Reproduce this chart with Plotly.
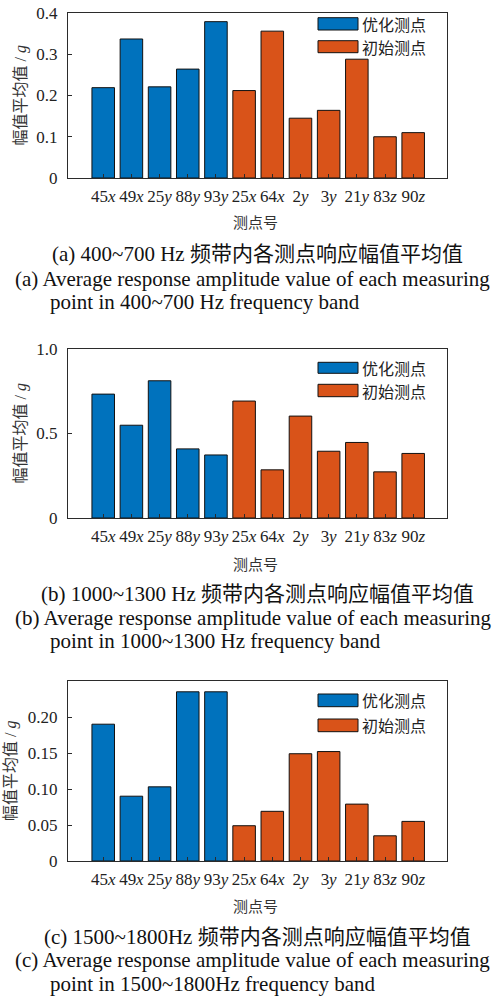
import re
import plotly.graph_objects as go

# ---------------- data ----------------
points = ["45x", "49x", "25y", "88y", "93y", "25x", "64x", "2y", "3y", "21y", "83z", "90z"]
n_optimized = 5
series_names = ["优化测点", "初始测点"]

vals_a = [0.219, 0.337, 0.221, 0.264, 0.379, 0.212, 0.356, 0.145, 0.164, 0.288, 0.100, 0.110]
vals_b = [0.733, 0.549, 0.812, 0.409, 0.373, 0.692, 0.285, 0.603, 0.395, 0.447, 0.273, 0.382]
vals_c = [0.190, 0.090, 0.103, 0.235, 0.235, 0.049, 0.069, 0.149, 0.152, 0.079, 0.035, 0.055]

yticks_a = [0, 0.1, 0.2, 0.3, 0.4]
ylabels_a = ["0", "0.1", "0.2", "0.3", "0.4"]
yticks_b = [0, 0.5, 1.0]
ylabels_b = ["0", "0.5", "1.0"]
yticks_c = [0, 0.05, 0.10, 0.15, 0.20]
ylabels_c = ["0", "0.05", "0.10", "0.15", "0.20"]

ytitle = "幅值平均值 / <i>g</i>"
xtitle = "测点号"
captions = [
    ["(a) 400~700 Hz 频带内各测点响应幅值平均值",
     "(a) Average response amplitude value of each measuring",
     "point in 400~700 Hz frequency band"],
    ["(b) 1000~1300 Hz 频带内各测点响应幅值平均值",
     "(b) Average response amplitude value of each measuring",
     "point in 1000~1300 Hz frequency band"],
    ["(c) 1500~1800Hz 频带内各测点响应幅值平均值",
     "(c) Average response amplitude value of each measuring",
     "point in 1500~1800Hz frequency band"],
]

# ---------------- styling ----------------
W, H = 500, 998
colors = ["#0072BD", "#D95319"]
FONT = "Liberation Serif, 'Noto Sans CJK SC', serif"
CJK = "'Noto Sans CJK SC', sans-serif"
AXC = "#2b2b2b"

def px(x):
    return x / W

def py(y):
    return 1 - y / H

ticktext = [re.sub(r"([a-z])$", r"<i>\1</i>", p) for p in points]

panels = [
    dict(vals=vals_a, yt=yticks_a, yl=ylabels_a, yr=[0, 0.4], top=13, bot=178,
         xt=221, ytc=21, cap=[254, 279, 302], leg=[(17.7, 30), (40.7, 52.7)]),
    dict(vals=vals_b, yt=yticks_b, yl=ylabels_b, yr=[0, 1.0], top=349, bot=518,
         xt=563, ytc=21, cap=[594, 618, 641], leg=[(362.3, 373.3), (384.3, 396.7)]),
    dict(vals=vals_c, yt=yticks_c, yl=ylabels_c, yr=[0, 0.25], top=681, bot=861,
         xt=905, ytc=11, cap=[937, 960, 984], leg=[(694, 706.7), (719, 731.7)]),
]
X0, X1 = 68, 447

fig = go.Figure()
layout = dict(
    template="none",
    width=W, height=H, margin=dict(l=0, r=0, t=0, b=0, pad=0, autoexpand=False),
    paper_bgcolor="white", plot_bgcolor="white",
    font=dict(family=FONT, size=15, color="#222"),
    showlegend=False, barmode="overlay",
)
annotations = []
shapes = []

for i, p in enumerate(panels):
    sfx = "" if i == 0 else str(i + 1)
    xa = "x" + sfx
    ya = "y" + sfx
    groups = [(points[:n_optimized], p["vals"][:n_optimized]),
              (points[n_optimized:], p["vals"][n_optimized:])]
    for k, (cats, v) in enumerate(groups):
        fig.add_trace(go.Bar(
            x=cats, y=v, name=series_names[k], xaxis=xa, yaxis=ya,
            width=0.8, marker=dict(color=colors[k], line=dict(color="#111", width=1)),
        ))
    layout["xaxis" + sfx] = dict(
        domain=[px(X0), px(X1)], anchor=ya, type="category", automargin=False,
        categoryorder="array", categoryarray=points,
        range=[-1.25, 12.2], tickvals=points, ticktext=ticktext,
        ticks="inside", ticklen=4, tickcolor=AXC, showline=True, linecolor=AXC,
        linewidth=1.2, mirror=True, showgrid=False, zeroline=False, ticklabelstandoff=2,
        tickfont=dict(family=FONT, size=17, color="#222"),
    )
    layout["yaxis" + sfx] = dict(
        domain=[py(p["bot"]), py(p["top"])], anchor=xa, range=p["yr"], automargin=False,
        tickvals=p["yt"], ticktext=p["yl"], ticks="inside", ticklen=4,
        tickcolor=AXC, showline=True, linecolor=AXC, linewidth=1.2, mirror=True,
        showgrid=False, zeroline=False, ticklabelstandoff=6,
        tickfont=dict(family=FONT, size=17, color="#222"),
    )
    # axis titles
    annotations.append(dict(text=xtitle, x=px(255), y=py(p["xt"]), xref="paper", yref="paper",
                            showarrow=False, xanchor="center", yanchor="middle",
                            font=dict(family=CJK, size=15, color="#333")))
    annotations.append(dict(text=ytitle, x=px(p["ytc"]), y=py((p["top"] + p["bot"]) / 2),
                            xref="paper", yref="paper", textangle=-90,
                            showarrow=False, xanchor="center", yanchor="middle",
                            font=dict(family=FONT, size=16, color="#333")))
    # legend
    for k, (y0, y1) in enumerate(p["leg"]):
        shapes.append(dict(type="rect", xref="paper", yref="paper",
                           x0=px(318), x1=px(358), y0=py(y1), y1=py(y0),
                           fillcolor=colors[k], line=dict(color="#111", width=1)))
        annotations.append(dict(text=series_names[k], x=px(360), y=py((y0 + y1) / 2),
                                xref="paper", yref="paper", showarrow=False,
                                xanchor="left", yanchor="middle",
                                font=dict(family=CJK, size=16, color="#222")))
    # captions
    c = captions[i]
    annotations.append(dict(text=c[0], x=px(257), y=py(p["cap"][0]), xref="paper", yref="paper",
                            showarrow=False, xanchor="center", yanchor="middle",
                            font=dict(family=FONT, size=21, color="#111")))
    annotations.append(dict(text=c[1], x=px(13), y=py(p["cap"][1]), xref="paper", yref="paper",
                            showarrow=False, xanchor="left", yanchor="middle",
                            font=dict(family=FONT, size=21, color="#111")))
    annotations.append(dict(text=c[2], x=px(48), y=py(p["cap"][2]), xref="paper", yref="paper",
                            showarrow=False, xanchor="left", yanchor="middle",
                            font=dict(family=FONT, size=21, color="#111")))

layout["annotations"] = annotations
layout["shapes"] = shapes
fig.update_layout(**layout)
fig.write_html("out.html", config={"displayModeBar": False},
               post_script="document.body.style.margin='0';document.body.style.overflow='hidden';")
